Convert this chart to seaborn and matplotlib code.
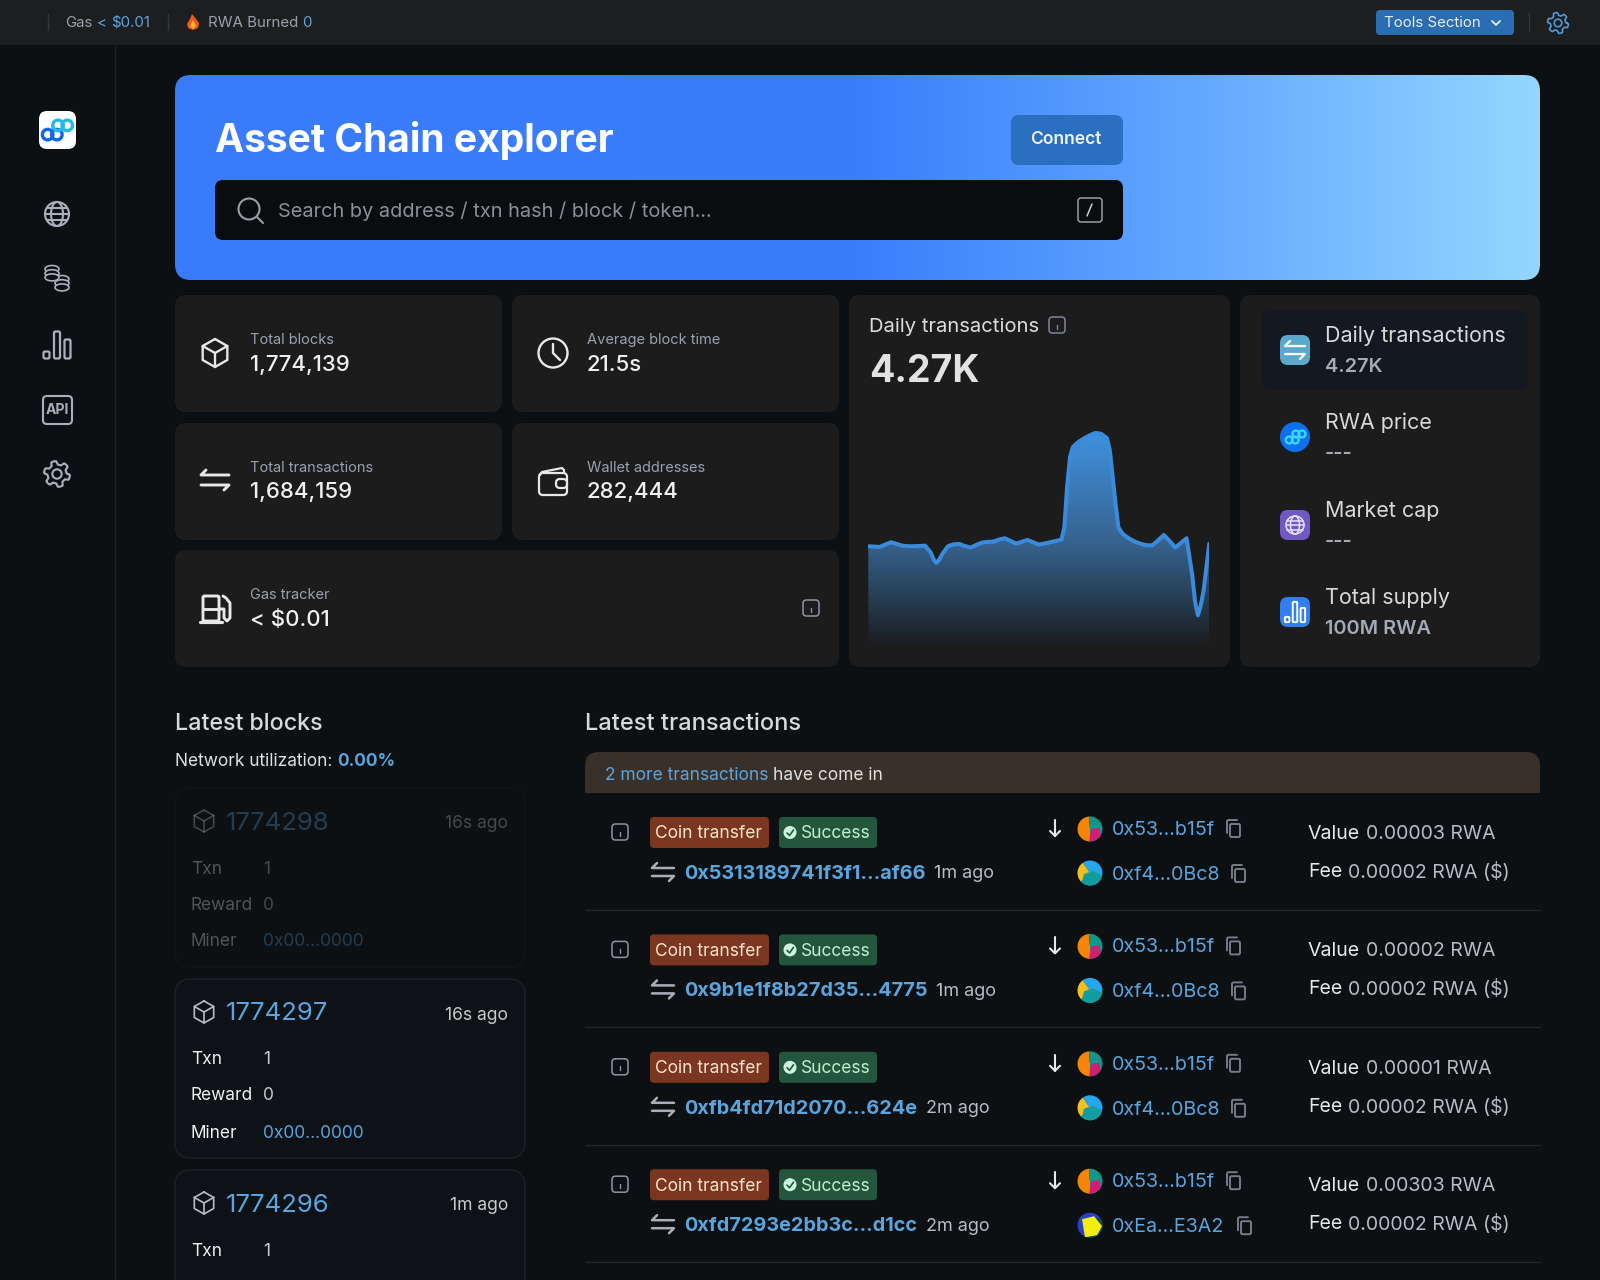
import numpy as np
import seaborn as sns
import matplotlib.pyplot as plt
from matplotlib.colors import LinearSegmentedColormap
from matplotlib.patches import Circle, FancyBboxPatch, Polygon, Rectangle, Wedge, Ellipse

# daily transactions sparkline (half days only where the curve turns fast)
days = [0, 1, 2, 3, 4, 5, 6, 7, 8, 9, 10, 11, 11.5, 12, 12.5, 13, 14,
        15, 16, 17, 18, 19, 20, 21, 22, 23, 24, 25, 26, 27, 28, 29,
        30, 31, 32, 33, 34, 34.5, 35, 35.5, 36, 37, 38, 39, 40, 41, 42, 42.5, 43, 43.5, 44, 44.5,
        45, 46, 47, 48, 49, 50, 51, 52, 53, 54, 55, 56, 57, 57.5, 58, 58.5, 59, 60]
daily_txns = [4160, 4145, 4130, 4230, 4325, 4255, 4185, 4160, 4160, 4170, 4185, 3895, 3610, 3470, 3610, 3830, 4160,
              4240, 4255, 4170, 4105, 4215, 4310, 4340, 4350, 4435, 4490, 4380, 4270, 4340, 4420, 4325,
              4230, 4270, 4325, 4380, 4435, 4955, 6680, 7850, 8260, 8470, 8620, 8745, 8840, 8800, 8620, 8125, 7020,
              5920, 4955, 4750,
              4625, 4460, 4340, 4255, 4200, 4200, 4405, 4625, 4380, 4105, 4295, 4490, 2960, 1860, 1310, 1720, 2340, 4270]

stat_labels = ['Total blocks', 'Average block time', 'Total transactions', 'Wallet addresses']
stat_values = ['1,774,139', '21.5s', '1,684,159', '282,444']
panel_titles = ['Daily transactions', 'RWA price', 'Market cap', 'Total supply']
panel_values = ['4.27K', '---', '---', '100M RWA']

block_numbers = ['1774298', '1774297', '1774296']
block_ages = ['16s ago', '16s ago', '1m ago']

tx_hashes = ['0x5313189741f3f1...af66', '0x9b1e1f8b27d35...4775', '0xfb4fd71d2070...624e', '0xfd7293e2bb3c...d1cc']
tx_ages = ['1m ago', '1m ago', '2m ago', '2m ago']
tx_values = ['0.00003 RWA', '0.00002 RWA', '0.00001 RWA', '0.00303 RWA']
tx_fees = ['0.00002 RWA ($)'] * 4
tx_to = ['0xf4...0Bc8', '0xf4...0Bc8', '0xf4...0Bc8', '0xEa...E3A2']

BG = '#0d1013'
CARD = '#1c1c1d'
BAR = '#1d1e1f'
BLUE = '#5aa5de'
GREY = '#9aa1ad'
WHITE = '#f0f0f0'
LINE = '#e8e8e8'
ICON = '#aab0ba'

sns.set_theme(style='dark')
plt.rcParams['font.family'] = ['Inter', 'Noto Sans', 'DejaVu Sans']
plt.rcParams['figure.facecolor'] = BG

fig = plt.figure(figsize=(16, 12.8), dpi=100, facecolor=BG)
ax = fig.add_axes([0, 0, 1, 1])
ax.set_axis_off()


def reset_limits():
    ax.set_xlim(0, 1600)
    ax.set_ylim(1280, 0)


def txt(x, y, s, size, color=WHITE, weight='normal', ha='left', alpha=1, family=None, z=5):
    return ax.text(x, y + 4, s, fontsize=size * 0.72, color=color, fontweight=weight, ha=ha, va='center',
                   alpha=alpha, family=family, zorder=z)


def txt_row(x, y, parts, size, alpha=1):
    # several colours on one line, each part starts where the last ended
    renderer = fig.canvas.get_renderer()
    for part in parts:
        s, color, weight = part[:3]
        part_size = part[3] if len(part) > 3 else size
        t = txt(x, y, s, part_size, color, weight, alpha=alpha)
        x = t.get_window_extent(renderer).x1 + size * 0.28


def box(x0, y0, x1, y1, r, fc, ec='none', lw=0, alpha=1, z=1):
    p = FancyBboxPatch((x0, y0), x1 - x0, y1 - y0, boxstyle=f'round,pad=0,rounding_size={r}',
                       fc=fc, ec=ec, lw=lw, alpha=alpha, zorder=z)
    ax.add_patch(p)
    return p


def path(xs, ys, color=LINE, lw=1.5, alpha=1, z=6):
    ax.plot(xs, ys, color=color, lw=lw, alpha=alpha, zorder=z, solid_capstyle='round', solid_joinstyle='round')


def ring(x, y, r, color=LINE, lw=1.5, alpha=1, fc='none', z=6):
    ax.add_patch(Circle((x, y), r, fc=fc, ec=color, lw=lw, alpha=alpha, zorder=z))


def cube_icon(x, y, s, color=LINE, lw=1.6, alpha=1):
    hx = s * 0.88
    path([x, x + hx, x + hx, x, x - hx, x - hx, x], [y - s, y - s / 2, y + s / 2, y + s, y + s / 2, y - s / 2, y - s],
         color, lw, alpha)
    path([x - hx, x, x + hx], [y - s / 2, y, y - s / 2], color, lw, alpha)
    path([x, x], [y, y + s], color, lw, alpha)


def swap_icon(x, y, w, color=LINE, lw=2.1, gap=5):
    path([x - w + 5, x - w, x + w], [y - gap - 5, y - gap, y - gap], color, lw)
    path([x - w, x + w, x + w - 5], [y + gap, y + gap, y + gap + 5], color, lw)


def clock_icon(x, y):
    ring(x, y, 14.5, lw=1.7)
    path([x, x, x + 7], [y - 9, y, y + 7], lw=1.7)


def wallet_icon(x, y):
    box(x - 14, y - 8, x + 14, y + 14, 4, 'none', LINE, 1.6, z=6)
    path([x - 13, x - 11, x + 9, x + 11, x + 11], [y - 6, y - 9, y - 13, y - 11, y - 8], lw=1.6)
    box(x + 3, y - 2, x + 14, y + 7, 4, CARD, LINE, 1.6, z=6)


def pump_icon(x, y):
    box(x - 12, y - 13, x + 4, y + 12, 1.5, 'none', LINE, 2.1, z=6)
    path([x - 12, x + 4], [y, y], lw=2.1)
    path([x - 15, x + 7], [y + 13, y + 13], lw=2.3)
    path([x + 4, x + 9, x + 9, x + 12, x + 15, x + 15, x + 11, x + 8],
         [y, y, y + 9, y + 12, y + 9, y - 6, y - 11, y - 13], lw=2.1)


def globe_icon(x, y, r, color=ICON, lw=1.5):
    ring(x, y, r, color, lw)
    ax.add_patch(Ellipse((x, y), r, 2 * r, fc='none', ec=color, lw=lw, zorder=6))
    path([x - r, x + r], [y, y], color, lw)
    path([x - r * 0.85, x + r * 0.85], [y - r * 0.5, y - r * 0.5], color, lw)
    path([x - r * 0.85, x + r * 0.85], [y + r * 0.5, y + r * 0.5], color, lw)


def coins_icon(x, y):
    for cx, top in [(x - 5, y - 10), (x + 5, y)]:
        for i in range(3):
            ax.add_patch(Ellipse((cx, top + i * 4.2), 14, 7, fc=BG, ec=ICON, lw=1.2, zorder=6 + i * 0.01))


def bars_icon(x, y, color=ICON, lw=1.6, s=1.0, fc='none'):
    for dx, h in [(-10.5, 7), (0, 27), (10.5, 19)]:
        box(x + (dx - 3) * s, y + (13.5 - h) * s, x + (dx + 3) * s, y + 13.5 * s, 1.5 * s, fc, color, lw, z=6)


def gear_icon(x, y, r, color=ICON, lw=1.5):
    ang = np.linspace(0, 2 * np.pi, 97)
    rad = r * (0.86 + 0.14 * np.tanh(3.5 * np.sin(6 * ang)))
    path(x + rad * np.cos(ang), y + rad * np.sin(ang), color, lw)
    ring(x, y, r * 0.36, color, lw)


def info_icon(x, y, color='#8f96a3', s=8):
    box(x - s, y - s, x + s, y + s, 3.5, 'none', color, 1.1, z=6)
    path([x, x], [y - 0.5, y + 3.5], color, 1)
    path([x, x], [y - 3.5, y - 3.4], color, 1)


def copy_icon(x, y, color='#767c87'):
    box(x - 4, y - 5, x + 6, y + 8, 1.5, 'none', color, 1.4, z=6)
    path([x - 7, x - 7, x - 6, x + 3], [y + 4, y - 8, y - 9, y - 9], color, 1.4)


def chain_logo(x, y, color, s=1.0, lw=2.4, color2=None):
    # the Asset Chain mark: four linked loops
    for dx, dy, c in [(-9, 4, color), (-1, 4, color), (0, -4, color2 or color), (8, -4, color2 or color)]:
        ring(x + dx * s, y + dy * s, 4.6 * s, c, lw, z=7)


def clipped(x, y, r, pts, color):
    poly = Polygon(pts, fc=color, ec='none', zorder=7)
    ax.add_patch(poly)
    poly.set_clip_path(Circle((x, y), r, transform=ax.transData))


def avatar(x, y, kind):
    r = 12.5
    if kind == 'ea':
        slices = [(0, 360, '#2a3fc4')]
    elif kind == 'f4':
        slices = [(235, 20, '#22a7f0'), (20, 135, '#119ca0'), (135, 235, '#f0c020')]
    else:
        slices = [(90, 265, '#f58508'), (265, 90, '#10968a')]
    for a, b, c in slices:
        ax.add_patch(Wedge((x, y), r, a, b, fc=c, ec='none', zorder=6))
    if kind == 'ea':
        ax.add_patch(Wedge((x, y), r, 320, 120, fc='#1a4a4a', ec='none', zorder=6))
        clipped(x, y, r, [(x - 8, y - 6), (x + 4, y - 9), (x + 12, y + 1), (x + 7, y + 10), (x - 5, y + 12)], '#f4ee10')
    if kind == 'f4':
        clipped(x, y, r, [(x - 6, y + 1), (x + 3, y - 2), (x + 13, y + 3), (x + 13, y + 13), (x - 9, y + 13)], '#119ca0')
    if kind == '53':
        clipped(x, y, r, [(x + 1, y + 0), (x + 9, y - 1), (x + 13, y + 13), (x - 1, y + 13)], '#cf1f74')


def flame(x, y):
    ax.add_patch(Polygon([(x - 6, y + 2), (x - 3, y - 3), (x - 1, y - 8), (x + 3, y - 3), (x + 6, y + 1), (x + 5, y + 6),
                          (x, y + 8), (x - 5, y + 6)], fc='#ee5a1e', ec='none', zorder=6))
    ax.add_patch(Polygon([(x - 3, y + 4), (x, y - 2), (x + 3, y + 4), (x, y + 7)], fc='#f7b733', ec='none', zorder=7))


def draw_top():
    ax.add_patch(Rectangle((0, 0), 1600, 45, fc=BAR, ec='none', zorder=1))
    path([47.5, 47.5], [14, 30], '#33363a', 1, z=2)
    path([167.5, 167.5], [14, 30], '#33363a', 1, z=2)
    path([1529, 1529], [13, 31], '#33363a', 1, z=2)
    txt_row(65, 19, [('Gas', GREY, 'normal'), ('<', BLUE, 'normal'), ('$0.01', BLUE, 'normal')], 15)
    flame(193, 22)
    txt_row(208, 19, [('RWA Burned', GREY, 'normal'), ('0', BLUE, 'normal')], 15)
    box(1376, 10, 1514, 35, 4, '#2a6db3', z=2)
    txt(1384, 19, 'Tools Section', 15, '#e8eef5')
    path([1492, 1496, 1500], [21, 25, 21], '#e8eef5', 1.3)
    gear_icon(1558, 23, 10.5, '#4f9ad8', 1.2)


def draw_sidebar():
    path([114.5, 114.5], [45, 1280], '#1f2226', 1, z=2)
    box(39, 111, 76, 149, 8, 'white', z=2)
    chain_logo(58, 130, '#1166ee', 1.15, 2.4, '#22b8e8')
    globe_icon(57, 214, 12)
    coins_icon(57, 279)
    bars_icon(57, 345)
    box(43, 396, 72, 424, 4, 'none', ICON, 1.5, z=6)
    txt(57.5, 406, 'API', 14, ICON, 'bold', ha='center')
    gear_icon(57, 474, 13)


def draw_hero():
    p = box(175, 75, 1540, 280, 16, 'none')
    stops = [(0, '#3a7bfb'), (0.5, '#3a7efc'), (0.75, '#63a8ff'), (1, '#93d7ff')]
    cmap = LinearSegmentedColormap.from_list('hero', stops)
    im = ax.imshow(np.linspace(0, 1, 512)[None, :], extent=(175, 1540, 280, 75), cmap=cmap, aspect='auto', zorder=1)
    im.set_clip_path(p)
    reset_limits()
    txt(215, 137, 'Asset Chain explorer', 39, 'white', 'bold')
    box(1011, 115, 1123, 165, 8, '#2a6fc0', z=2)
    txt(1066, 136, 'Connect', 17.5, '#eef3fa', 'semibold', ha='center')
    box(215, 180, 1123, 240, 8, '#0b0c0f', z=2)
    ring(249, 209, 10.5, '#9a9ea6', 1.5)
    path([257, 263], [217, 223], '#9a9ea6', 1.5)
    txt(278, 207, 'Search by address / txn hash / block / token...', 20, '#8b8f97')
    box(1078, 198, 1102, 222, 3, 'none', '#9a9ea6', 1.1, z=6)
    path([1087, 1092], [216, 204], '#c8cacf', 1.1)


def draw_stats():
    cards = [(175, 295, 502, 412), (512, 295, 839, 412), (175, 423, 502, 540), (512, 423, 839, 540),
             (175, 550, 839, 667), (849, 295, 1230, 667), (1240, 295, 1540, 667)]
    for c in cards:
        box(*c, 11, CARD)
    for i in range(4):
        col = i % 2
        row = i // 2
        x = 250 + col * 337
        y = 336 + row * 127.5
        txt(x, y, stat_labels[i], 14.6, GREY)
        txt(x, y + 25, stat_values[i], 22.2, WHITE, 'medium')
    cube_icon(215, 353, 14, lw=1.7)
    clock_icon(553, 353)
    swap_icon(215, 480, 14)
    wallet_icon(553, 481)
    pump_icon(215, 609)
    txt(250, 591, 'Gas tracker', 14.6, GREY)
    txt(250, 616, '< $0.01', 22.2, WHITE, 'medium')
    info_icon(811, 608)


def draw_chart():
    txt(869, 323, 'Daily transactions', 20.2, '#dcdcdc')
    info_icon(1057, 325, '#7f8896')
    txt(869, 368, '4.27K', 37.5, '#e2e2e2', 'bold')

    x0, x1, y0, y1 = 868.3, 1209.3, 429, 647
    cax = fig.add_axes([x0 / 1600, 1 - y1 / 1280, (x1 - x0) / 1600, (y1 - y0) / 1280])
    cax.patch.set_alpha(0)
    cax.set_axis_off()
    cax.set_xlim(days[0], days[-1])
    cax.set_ylim(0, 9000)
    fill = cax.fill_between(days, daily_txns, 0, color='none')
    cmap = LinearSegmentedColormap.from_list('fade', [(0, CARD), (0.1, '#1f2a35'), (0.47, '#36618c'), (1, '#3f92e0')])
    im = cax.imshow(np.linspace(1, 0, 256)[:, None], extent=(days[0], days[-1], 0, 8840), cmap=cmap, aspect='auto',
                    zorder=1)
    im.set_clip_path(fill.get_paths()[0], transform=cax.transData)
    cax.set_xlim(days[0], days[-1])
    cax.set_ylim(0, 9000)
    sns.lineplot(x=days, y=daily_txns, ax=cax, color='#3a8bdc', linewidth=2.9, errorbar=None, zorder=3,
                 solid_joinstyle='round', solid_capstyle='round')
    cax.set_xlabel('')
    cax.set_ylabel('')


def draw_panel():
    box(1261, 310, 1528, 390, 12, '#141821', z=2)
    centers = [350, 437, 525, 612]
    colors = ['#5aa9cc', '#0f6fee', '#7059c4', '#2f7ff0']
    for i, y in enumerate(centers):
        if i == 1:
            ax.add_patch(Ellipse((1295, y), 30, 30, fc=colors[i], ec='none', zorder=3))
            chain_logo(1296, y, '#35d8ff', 0.75, 1.7)
        else:
            box(1280, y - 15, 1310, y + 15, 8, colors[i], z=3)
        txt(1325, y - 18, panel_titles[i], 21.5, '#d9d9d9')
        txt(1325, y + 13, panel_values[i], 20, '#a4aab6', 'semibold')
    swap_icon(1295, 350, 10, 'white', 1.6, 4)
    globe_icon(1295, 525, 9, '#e6e2f5', 1.1)
    bars_icon(1295, 612, 'white', 1.4, 0.75)


def draw_blocks():
    txt(175, 720, 'Latest blocks', 23.2, '#dadada', 'medium')
    txt_row(175, 757, [('Network utilization:', '#e0e0e0', 'normal'), ('0.00%', BLUE, 'bold')], 17.3)
    offset = 191
    for i, num in enumerate(block_numbers):
        top = 788 + i * offset
        a = 0.3 if i == 0 else 1
        box(175, top, 525, top + 179, 16, '#0e1216', '#1e2227', 1, alpha=a, z=1)
        cube_icon(204, top + 33, 11, '#b9bdc5', 1.2, a)
        txt(226, top + 31, num, 25.7, BLUE, alpha=a)
        txt(508, top + 32, block_ages[i], 17.5, '#c9c9c9', ha='right', alpha=a)
        txt(191, top + 77, 'Txn', 17.3, WHITE, alpha=a)
        txt(263, top + 77, '1', 17.3, '#c9c9c9', alpha=a)
        if i < 2:
            txt(191, top + 113, 'Reward', 17.3, WHITE, alpha=a)
            txt(263, top + 113, '0', 17.3, '#c9c9c9', alpha=a)
            txt(191, top + 150, 'Miner', 17.3, WHITE, alpha=a)
            txt(263, top + 150, '0x00...0000', 17.3, BLUE, alpha=a)


def draw_txs():
    txt(585, 720, 'Latest transactions', 23.6, '#dadada', 'medium')
    box(585, 752, 1540, 800, 14, '#393029', z=1)
    ax.add_patch(Rectangle((585, 775), 955, 18, fc='#393029', ec='none', zorder=1))
    ax.add_patch(Rectangle((585, 793), 955, 10, fc=BG, ec='none', zorder=1))
    txt_row(605, 771, [('2 more transactions', BLUE, 'normal'), ('have come in', '#e0e0e0', 'normal')], 17.4)
    step = 117.4
    for i in range(4):
        y = i * step
        info_icon(620, 832 + y, '#8f96a3', 8)
        box(650, 817 + y, 769, 848 + y, 4, '#7a3620', z=2)
        txt(655, 830 + y, 'Coin transfer', 17.4, '#fbe5cf')
        box(779, 817 + y, 877, 848 + y, 4, '#24563e', z=2)
        ax.add_patch(Circle((790, 832.5 + y), 6.5, fc='#cdf5dc', ec='none', zorder=6))
        path([787, 789.5, 793.5], [833 + y, 835.5 + y, 830 + y], '#24563e', 1.2, z=7)
        txt(801, 830 + y, 'Success', 17.4, '#bff0d0')
        swap_icon(663, 872 + y, 11, '#a9aeb8', 1.8, 4)
        txt_row(684.5, 870 + y, [(tx_hashes[i], BLUE, 'bold', 19.85), (tx_ages[i], '#b8bcc4', 'normal', 18)], 30)
        path([1055, 1055], [820 + y, 836 + y], '#e8e8e8', 1.5)
        path([1050, 1055, 1060], [831 + y, 836 + y, 831 + y], '#e8e8e8', 1.5)
        avatar(1090, 829 + y, '53')
        txt(1112, 826 + y, '0x53...b15f', 19.7, BLUE)
        copy_icon(1234, 829 + y)
        avatar(1090, 873 + y, 'ea' if i == 3 else 'f4')
        txt(1112, 871 + y, tx_to[i], 19.7, BLUE)
        copy_icon(1245 if i == 3 else 1239, 874 + y)
        txt_row(1308, 830 + y, [('Value', '#e8e8e8', 'normal'), (tx_values[i], '#b8bcc4', 'normal')], 19.5)
        txt_row(1308, 868 + y, [('Fee', '#e8e8e8', 'normal'), (tx_fees[i], '#b8bcc4', 'normal')], 19.5)
        path([585, 1540], [910 + y, 910 + y], '#22262b', 1, z=2)


def main():
    reset_limits()
    draw_top()
    draw_sidebar()
    draw_hero()
    draw_stats()
    draw_panel()
    draw_blocks()
    draw_txs()
    draw_chart()
    reset_limits()
    fig.savefig('out.png', dpi=100, facecolor=BG)
    plt.close(fig)


if __name__ == '__main__':
    main()
